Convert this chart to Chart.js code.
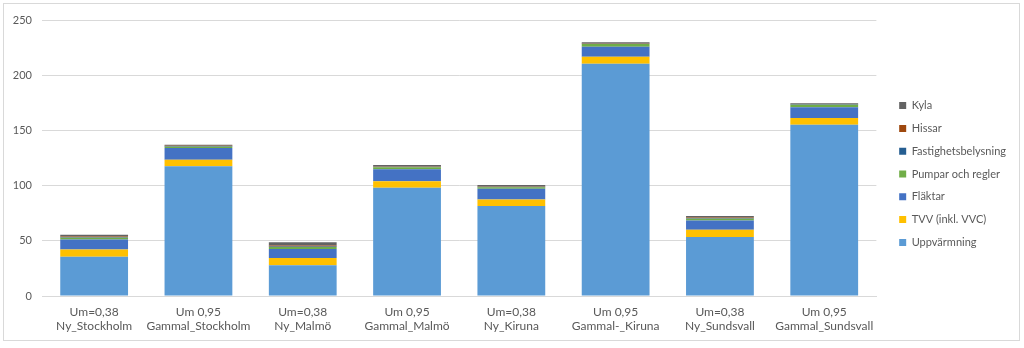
<!DOCTYPE html>
<html>
<head>
<meta charset="utf-8">
<script src="https://cdn.jsdelivr.net/npm/chart.js@4/dist/chart.umd.min.js"></script>
<style>
  html, body { margin: 0; padding: 0; background: #ffffff; }
  #wrap { position: relative; width: 1024px; height: 348px; }
</style>
</head>
<body>
<div id="wrap"><canvas id="c" width="1024" height="348"></canvas></div>
<script>
// Category labels (two lines each)
const umLabels = ['Um=0,38', 'Um 0,95', 'Um=0,38', 'Um 0,95', 'Um=0,38', 'Um 0,95', 'Um=0,38', 'Um 0,95'];
const buildingLabels = ['Ny_Stockholm', 'Gammal_Stockholm', 'Ny_Malmö', 'Gammal_Malmö', 'Ny_Kiruna', 'Gammal-_Kiruna', 'Ny_Sundsvall', 'Gammal_Sundsvall'];

// Energy use per component (stacked)
const uppvarmning = [35.5, 117.5, 27.8, 98.0, 81.5, 210.4, 53.5, 155.2];
const tvv = [6.6, 6.0, 6.6, 6.0, 6.0, 6.3, 6.5, 6.0];
const flaktar = [9.0, 10.5, 8.2, 10.9, 9.6, 9.0, 8.5, 9.7];
const pumpar = [1.6, 1.2, 1.8, 1.8, 1.5, 2.5, 1.5, 2.4];
const fastighetsbelysning = [0.5, 0.4, 0.5, 0.4, 0.4, 0.3, 0.5, 0.3];
const hissar = [0.8, 0.5, 0.8, 0.5, 0.5, 0.4, 0.5, 0.3];
const kyla = [1.5, 1.0, 3.0, 1.0, 1.0, 0.9, 1.5, 0.6];

// Y axis ticks
const yTicks = [0, 50, 100, 150, 200, 250];

const textColor = '#595959';
const gridColor = '#d9d9d9';
const fontFamily = 'Lato, "Liberation Sans", sans-serif';

const labels = umLabels.map((u, i) => [u, buildingLabels[i]]);

function ds(label, data, color) {
  return {
    label, data,
    backgroundColor: color,
    borderWidth: 0,
    barPercentage: 0.65,
    categoryPercentage: 1.0
  };
}

// Thin frame around the whole chart
const framePlugin = {
  id: 'frame',
  beforeDraw(chart) {
    const ctx = chart.ctx;
    ctx.save();
    ctx.fillStyle = '#ffffff';
    ctx.fillRect(0, 0, chart.width, chart.height);
    ctx.strokeStyle = gridColor;
    ctx.lineWidth = 1;
    ctx.strokeRect(3.5, 3.5, 1016, 337);
    ctx.restore();
  }
};

// Empty spacer axis (no ticks, no grid) used only to reserve room
function spacer(position, axis, size) {
  return {
    type: 'linear',
    axis,
    position,
    display: true,
    grid: { display: false, drawTicks: false },
    border: { display: false },
    ticks: { display: false },
    afterFit(scale) {
      if (axis === 'x') scale.height = size; else scale.width = size;
    }
  };
}

new Chart(document.getElementById('c'), {
  type: 'bar',
  data: {
    labels,
    datasets: [
      ds('Uppvärmning', uppvarmning, '#5B9BD5'),
      ds('TVV (inkl. VVC)', tvv, '#FFC000'),
      ds('Fläktar', flaktar, '#4472C4'),
      ds('Pumpar och regler', pumpar, '#70AD47'),
      ds('Fastighetsbelysning', fastighetsbelysning, '#255E91'),
      ds('Hissar', hissar, '#9E480E'),
      ds('Kyla', kyla, '#636363')
    ]
  },
  options: {
    responsive: false,
    animation: false,
    devicePixelRatio: 1,
    layout: { padding: { left: 4, top: 6, right: 8, bottom: 6 } },
    plugins: {
      legend: {
        position: 'right',
        reverse: true,
        labels: {
          boxWidth: 7,
          boxHeight: 7,
          padding: 11.8,
          color: textColor,
          font: { family: fontFamily, size: 11 }
        }
      },
      tooltip: { enabled: false }
    },
    scales: {
      x: {
        stacked: true,
        grid: { display: false, drawTicks: false },
        border: { display: true, color: gridColor },
        ticks: {
          color: textColor,
          padding: 9,
          maxRotation: 0,
          autoSkip: false,
          font: { family: fontFamily, size: 12 }
        },
        afterFit(scale) { scale.height = 46; }
      },
      y: {
        stacked: true,
        min: 0,
        max: 250,
        grid: { color: gridColor, drawTicks: false },
        border: { display: false },
        afterBuildTicks(scale) { scale.ticks = yTicks.map(v => ({ value: v })); },
        ticks: {
          color: textColor,
          padding: 10,
          font: { family: fontFamily, size: 11 }
        },
        afterFit(scale) { scale.width = 38; }
      },
      gapTop: spacer('top', 'x', 14),
      gapRight: spacer('right', 'y', 11)
    }
  },
  plugins: [framePlugin]
});
</script>
</body>
</html>
